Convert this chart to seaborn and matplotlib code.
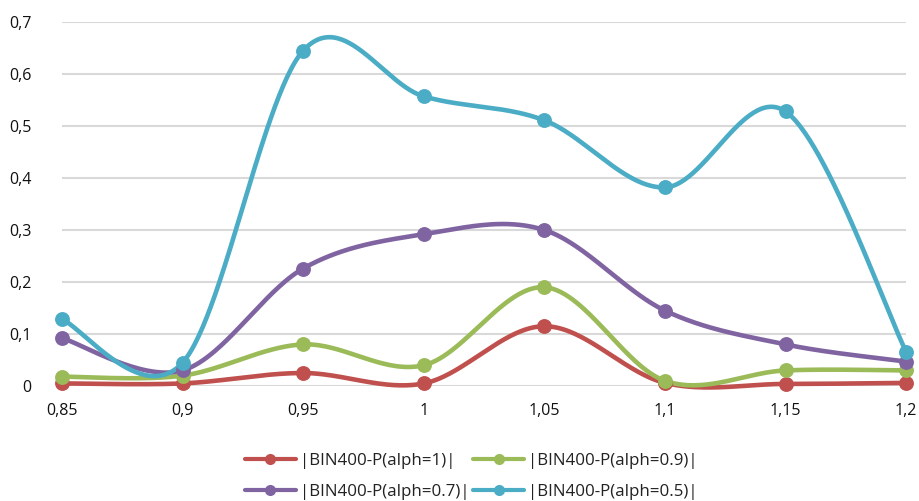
import numpy as np
import pandas as pd
import matplotlib
matplotlib.use("Agg")
import matplotlib.pyplot as plt
from matplotlib.lines import Line2D
import seaborn as sns

# Data
x_values = [0.85, 0.90, 0.95, 1.00, 1.05, 1.10, 1.15, 1.20]
x_labels = ["0,85", "0,9", "0,95", "1", "1,05", "1,1", "1,15", "1,2"]
alph_1 = [0.005, 0.005, 0.025, 0.005, 0.115, 0.006, 0.004, 0.006]
alph_09 = [0.018, 0.020, 0.080, 0.040, 0.190, 0.010, 0.030, 0.030]
alph_07 = [0.092, 0.030, 0.226, 0.292, 0.300, 0.145, 0.080, 0.047]
alph_05 = [0.128, 0.045, 0.645, 0.557, 0.511, 0.382, 0.528, 0.066]
y_ticks = [0, 0.1, 0.2, 0.3, 0.4, 0.5, 0.6, 0.7]
y_labels = ["0", "0,1", "0,2", "0,3", "0,4", "0,5", "0,6", "0,7"]

series_names = ["|BIN400-P(alph=1)|", "|BIN400-P(alph=0.9)|",
                "|BIN400-P(alph=0.7)|", "|BIN400-P(alph=0.5)|"]
series_values = [alph_1, alph_09, alph_07, alph_05]
colors = ["#c0504d", "#9bbb59", "#8064a2", "#4bacc6"]

sns.set_theme(style="white")
plt.rcParams["font.family"] = ["Open Sans", "DejaVu Sans"]

fig = plt.figure(figsize=(9.19, 5.01), dpi=100)
ax = fig.add_axes([0.0675, 0.2295, 0.9185, 0.7265])

# Smoothing is done in screen-like units so the curve bends like a
# spreadsheet "smoothed line"
SX = 120.4 / 0.05
SY = 52.0 / 0.1


def smooth_curve(xs, ys, n=60):
    pts = np.column_stack([np.asarray(xs) * SX, np.asarray(ys) * SY])
    padded = np.vstack([pts[0], pts, pts[-1]])
    out = []
    for i in range(len(pts) - 1):
        p0, p1, p2, p3 = padded[i], padded[i + 1], padded[i + 2], padded[i + 3]
        c1 = p1 + (p2 - p0) / 6.0
        c2 = p2 - (p3 - p1) / 6.0
        t = np.linspace(0, 1, n, endpoint=(i == len(pts) - 2))[:, None]
        seg = ((1 - t) ** 3) * p1 + 3 * ((1 - t) ** 2) * t * c1 \
            + 3 * (1 - t) * t ** 2 * c2 + t ** 3 * p2
        out.append(seg)
    curve = np.vstack(out)
    return curve[:, 0] / SX, curve[:, 1] / SY


for name, vals, col in zip(series_names, series_values, colors):
    cx, cy = smooth_curve(x_values, vals)
    curve_df = pd.DataFrame({"x": cx, "y": cy})
    sns.lineplot(data=curve_df, x="x", y="y", sort=False, estimator=None,
                 color=col, linewidth=3.3, ax=ax, clip_on=False,
                 solid_capstyle="round")
    pts_df = pd.DataFrame({"x": x_values, "y": vals})
    sns.scatterplot(data=pts_df, x="x", y="y", color=col, s=115,
                    edgecolor=col, linewidth=0, ax=ax, clip_on=False,
                    zorder=3)

ax.set_xlim(0.85, 1.2)
ax.set_ylim(0, 0.7)
ax.set_xticks(x_values)
ax.set_xticklabels(x_labels)
ax.set_yticks(y_ticks)
ax.set_yticklabels(y_labels)
ax.set_xlabel("")
ax.set_ylabel("")
ax.grid(axis="y", color="#d9d9d9", linewidth=1.5)
ax.grid(axis="x", visible=False)
ax.set_axisbelow(True)
for s in ax.spines.values():
    s.set_visible(False)
ax.tick_params(axis="both", length=0, labelsize=11.5, colors="#111111")
ax.tick_params(axis="y", pad=22)
ax.tick_params(axis="x", pad=12)

handles = [Line2D([0], [0], color=c, linewidth=3.0, marker="o",
                  markersize=8, markeredgewidth=0) for c in colors]
order = [0, 2, 1, 3]
fig.legend([handles[i] for i in order], [series_names[i] for i in order],
           loc="center", bbox_to_anchor=(0.513, 0.049), ncol=2, frameon=False,
           fontsize=12.2, handlelength=3.0, handletextpad=0.25,
           columnspacing=0.2, labelspacing=0.9, labelcolor="#222222")

fig.savefig("out.png", dpi=100)
